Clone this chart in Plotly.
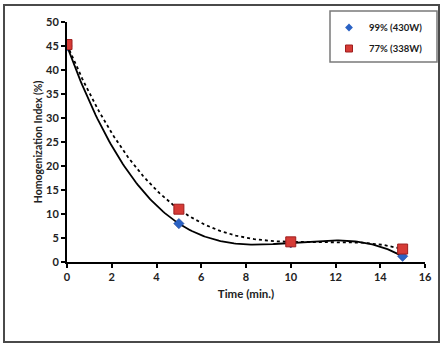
import numpy as np
import plotly.graph_objects as go

time_min = [0, 5, 10, 15]
hi_99 = [45.0, 8.0, 4.0, 1.2]
hi_77 = [45.3, 11.0, 4.2, 2.7]
name_99 = "99% (430W)"
name_77 = "77% (338W)"

# polynomial (order 3) trendlines as in the original spreadsheet chart
xs = np.linspace(0, 15, 200)
fit99 = np.polyval(np.polyfit(time_min, hi_99, 3), xs)
fit77 = np.polyval(np.polyfit(time_min, hi_77, 3), xs)

W, H = 446, 348
L, R, T, B = 67, 21, 22, 86
pw, ph = W - L - R, H - T - B

def px_x(p):
    return (p - L) / pw

def px_y(p):
    return (H - B - p) / ph

BLUE = "#2A62C4"
RED = "#D63B36"

fig = go.Figure()
fig.add_trace(go.Scatter(x=xs, y=fit77, mode="lines", showlegend=False,
                         line=dict(color="black", width=1.8, dash="3px,3px"), hoverinfo="skip"))
fig.add_trace(go.Scatter(x=xs, y=fit99, mode="lines", showlegend=False,
                         line=dict(color="black", width=1.8), hoverinfo="skip"))
fig.add_trace(go.Scatter(x=time_min, y=hi_99, mode="markers", showlegend=False,
                         marker=dict(symbol="diamond", size=8, color=BLUE,
                                     line=dict(color="#1F3F8A", width=0.5))))
fig.add_trace(go.Scatter(x=time_min, y=hi_77, mode="markers", showlegend=False,
                         marker=dict(symbol="square", size=10, color=RED,
                                     line=dict(color="#9E1E1E", width=1))))
# legend entries (smaller symbols, as in the original legend)
fig.add_trace(go.Scatter(x=[None], y=[None], mode="markers", name=name_99, legendgroup="a",
                         marker=dict(symbol="diamond", size=6, color=BLUE)))
fig.add_trace(go.Scatter(x=[None], y=[None], mode="markers", name=name_77, legendgroup="b",
                         marker=dict(symbol="square", size=7, color=RED,
                                     line=dict(color="#9E1E1E", width=1))))

# outer frame
fig.add_shape(type="rect", xref="paper", yref="paper",
              x0=px_x(4), x1=px_x(439), y0=px_y(342), y1=px_y(5),
              line=dict(color="#4a4a4a", width=2), fillcolor="rgba(0,0,0,0)")
# legend box
fig.add_shape(type="rect", xref="paper", yref="paper",
              x0=px_x(330), x1=px_x(437), y0=px_y(62), y1=px_y(11),
              line=dict(color="#7a7a7a", width=1.5), fillcolor="white", layer="above")

fig.update_layout(
    width=W, height=H,
    margin=dict(l=L, r=R, t=T, b=B, autoexpand=False),
    paper_bgcolor="white", plot_bgcolor="white",
    font=dict(family="Lato, Open Sans, sans-serif", color="#222222", size=10),
    legend=dict(x=px_x(329), y=px_y(13), xanchor="left", yanchor="top",
                borderwidth=0, bgcolor="rgba(0,0,0,0)",
                font=dict(size=9.5, family="Lato, sans-serif", weight="bold", color="#1a1a1a"),
                tracegroupgap=2, itemwidth=30),
    xaxis=dict(range=[0, 16], dtick=2, showgrid=False, zeroline=False,
               showline=True, linecolor="black", linewidth=2,
               ticks="outside", ticklen=4, tickwidth=2, tickcolor="black",
               tickfont=dict(size=11, weight="bold"),
               title=dict(text="Time (min.)", font=dict(size=11.5, weight="bold"), standoff=8)),
    yaxis=dict(range=[0, 50], dtick=5, showgrid=False, zeroline=False,
               showline=True, linecolor="black", linewidth=2,
               ticks="outside", ticklen=4, tickwidth=2, tickcolor="black",
               tickfont=dict(size=11, weight="bold"),
               title=dict(text="Homogenization Index (%)", font=dict(size=10.5, weight="bold"), standoff=1)),
)

fig.write_html("out.html", config={"displayModeBar": False},
               post_script="document.body.style.margin='0px';")
